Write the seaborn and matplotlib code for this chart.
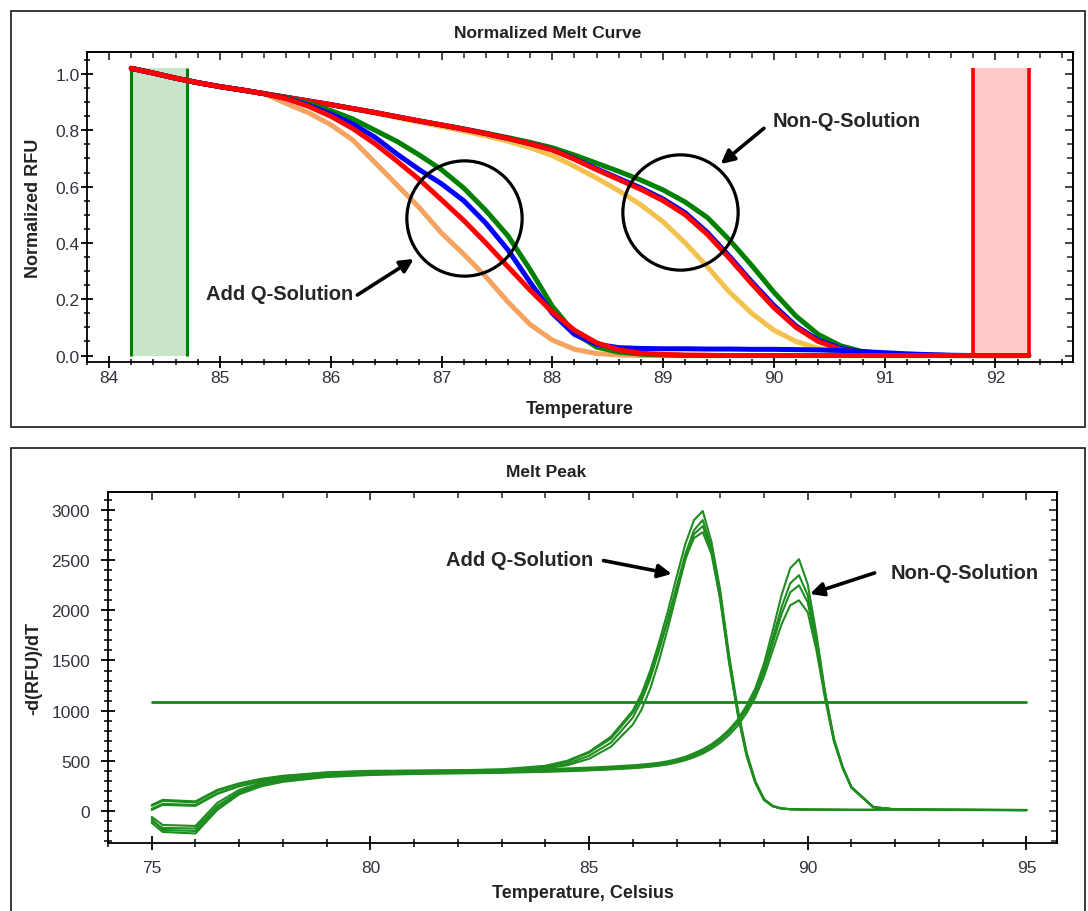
import matplotlib
matplotlib.use("Agg")
import matplotlib.pyplot as plt
import seaborn as sns
from matplotlib.patches import Rectangle
from matplotlib.ticker import MultipleLocator

# ---------------- Normalized melt curve (top) ----------------
temp_norm = [84.2, 84.4, 84.6, 84.8, 85.0, 85.2, 85.4, 85.6, 85.8, 86.0, 86.2, 86.4,
             86.6, 86.8, 87.0, 87.2, 87.4, 87.6, 87.8, 88.0, 88.2, 88.4, 88.6, 88.8,
             89.0, 89.2, 89.4, 89.6, 89.8, 90.0, 90.2, 90.4, 90.6, 90.8, 91.0, 91.2,
             91.4, 91.6, 91.8, 92.0, 92.2, 92.3]

# shared start of all curves (84.2 - 85.4)
head = [1.02, 1.003, 0.985, 0.969, 0.955, 0.943, 0.93]

# Non-Q-Solution curves
nq_green = head + [0.917, 0.904, 0.891, 0.877, 0.863, 0.848, 0.833, 0.819, 0.805, 0.79, 0.774, 0.757,
                   0.738, 0.712, 0.683, 0.654, 0.623, 0.588, 0.545, 0.49, 0.41, 0.32, 0.225, 0.14,
                   0.075, 0.035, 0.014, 0.006, 0.003, 0.001, 0, 0, 0, 0, 0]
nq_red = head + [0.917, 0.904, 0.891, 0.877, 0.863, 0.848, 0.833, 0.819, 0.804, 0.788, 0.771, 0.752,
                 0.73, 0.697, 0.66, 0.625, 0.59, 0.55, 0.50, 0.43, 0.345, 0.255, 0.17, 0.10,
                 0.05, 0.022, 0.01, 0.005, 0.002, 0.001, 0, 0, 0, 0, 0]
nq_blue = head + [0.917, 0.904, 0.891, 0.877, 0.863, 0.848, 0.833, 0.819, 0.804, 0.788, 0.771, 0.752,
                  0.731, 0.699, 0.663, 0.629, 0.595, 0.556, 0.507, 0.437, 0.352, 0.262, 0.178, 0.105,
                  0.055, 0.026, 0.012, 0.006, 0.003, 0.001, 0, 0, 0, 0, 0]
nq_yellow = head + [0.917, 0.904, 0.891, 0.876, 0.861, 0.845, 0.829, 0.813, 0.797, 0.78, 0.761, 0.738,
                    0.71, 0.672, 0.63, 0.585, 0.535, 0.475, 0.40, 0.315, 0.225, 0.15, 0.09, 0.05,
                    0.025, 0.01, 0.004, 0.002, 0.001, 0, 0, 0, 0, 0, 0]

# Add Q-Solution curves
q_orange = head + [0.895, 0.862, 0.82, 0.765, 0.685, 0.605, 0.525, 0.435, 0.36, 0.28, 0.19, 0.11,
                   0.055, 0.022, 0.007, 0.002, 0, 0, 0, 0, 0, 0, 0, 0,
                   0, 0, 0, 0, 0, 0, 0, 0, 0, 0, 0]
q_red = head + [0.912, 0.885, 0.85, 0.806, 0.752, 0.69, 0.625, 0.553, 0.48, 0.40, 0.315, 0.232,
                0.155, 0.09, 0.045, 0.02, 0.008, 0.004, 0.002, 0.001, 0, 0, 0, 0,
                0, 0, 0, 0, 0, 0, 0, 0, 0, 0, 0]
q_blue = head + [0.913, 0.889, 0.858, 0.822, 0.775, 0.715, 0.66, 0.61, 0.55, 0.47, 0.375, 0.26,
                 0.15, 0.075, 0.04, 0.028, 0.025, 0.024, 0.024, 0.023, 0.023, 0.022, 0.022, 0.021,
                 0.02, 0.018, 0.014, 0.01, 0.006, 0.003, 0.001, 0, 0, 0, 0]
q_green = head + [0.915, 0.895, 0.87, 0.84, 0.80, 0.76, 0.712, 0.66, 0.595, 0.515, 0.425, 0.305,
                  0.175, 0.08, 0.03, 0.012, 0.005, 0.002, 0, 0, 0, 0, 0, 0,
                  0, 0, 0, 0, 0, 0, 0, 0, 0, 0, 0]

norm_curves = [
    (nq_yellow, "#F2C14E"),
    (q_orange, "#F4A460"),
    (nq_green, "#008000"),
    (nq_blue, "#0000FF"),
    (nq_red, "#FF0000"),
    (q_green, "#008000"),
    (q_blue, "#0000FF"),
    (q_red, "#FF0000"),
]

# melt region bars (begin / end temperature)
begin_bar = [84.2, 84.7]
end_bar = [91.8, 92.3]
bar_top = 1.02

# ---------------- Melt peak (bottom) ----------------
temp_peak = [75.0, 75.25, 76.0, 76.5, 77.0, 77.5, 78.0, 79.0, 80.0, 81.0, 82.0, 83.0, 84.0,
             84.5, 85.0, 85.5, 86.0, 86.2, 86.4, 86.6, 86.8, 87.0, 87.2, 87.4, 87.6, 87.8,
             88.0, 88.2, 88.4, 88.6, 88.8, 89.0, 89.2, 89.4, 89.6, 89.8, 90.0, 90.2, 90.4,
             90.6, 90.8, 91.0, 91.5, 92.0, 93.0, 94.0, 95.0]

peak_q1 = [50, 100, 85, 200, 270, 315, 345, 380, 395, 400, 405, 415, 450,
           500, 590, 740, 1000, 1170, 1400, 1680, 1990, 2330, 2660, 2900, 2990, 2680,
           2200, 1560, 1020, 590, 300, 120, 50, 25, 18, 15, 14, 13, 12,
           12, 11, 11, 10, 10, 10, 9, 8]
peak_q2 = [-100, -170, -175, 50, 190, 265, 310, 355, 375, 385, 390, 400, 430,
           470, 550, 680, 930, 1100, 1320, 1600, 1900, 2230, 2560, 2800, 2900, 2620,
           2150, 1520, 990, 570, 290, 115, 48, 24, 17, 15, 13, 12, 12,
           11, 11, 10, 10, 10, 9, 9, 8]
peak_q3 = [20, 70, 60, 175, 250, 300, 335, 370, 390, 395, 400, 405, 425,
           455, 520, 640, 860, 1010, 1220, 1500, 1820, 2160, 2500, 2760, 2840, 2600,
           2120, 1500, 980, 560, 285, 110, 46, 23, 17, 14, 13, 12, 12,
           11, 11, 10, 10, 10, 9, 9, 8]
peak_q4 = [-60, -140, -150, 80, 210, 280, 320, 360, 380, 390, 395, 405, 440,
           490, 580, 720, 980, 1140, 1360, 1620, 1910, 2220, 2520, 2720, 2780, 2560,
           2100, 1480, 960, 550, 280, 110, 46, 23, 17, 14, 13, 12, 12,
           11, 11, 10, 10, 10, 9, 9, 8]
peak_nq1 = [60, 110, 95, 210, 275, 320, 350, 385, 400, 402, 405, 410, 418,
            424, 432, 442, 455, 462, 470, 480, 495, 515, 540, 575, 615, 665,
            730, 810, 910, 1050, 1220, 1470, 1800, 2150, 2420, 2510, 2260, 1760, 1180,
            720, 440, 240, 40, 15, 12, 10, 9]
peak_nq2 = [-80, -190, -200, 30, 180, 255, 300, 345, 365, 375, 380, 385, 395,
            400, 408, 418, 430, 437, 445, 456, 470, 490, 515, 548, 588, 640,
            705, 785, 885, 1020, 1190, 1420, 1720, 2030, 2270, 2350, 2150, 1700, 1160,
            710, 435, 235, 38, 15, 12, 10, 9]
peak_nq3 = [10, 60, 50, 170, 245, 295, 330, 368, 385, 392, 396, 400, 408,
            413, 420, 430, 442, 450, 458, 468, 482, 502, 528, 560, 600, 650,
            712, 790, 885, 1010, 1170, 1390, 1670, 1960, 2180, 2250, 2080, 1660, 1140,
            700, 430, 232, 36, 15, 12, 10, 9]
peak_nq4 = [-120, -210, -225, 10, 165, 245, 290, 338, 358, 368, 374, 380, 390,
            396, 404, 414, 426, 433, 441, 451, 464, 482, 505, 535, 572, 620,
            680, 755, 850, 975, 1130, 1340, 1600, 1860, 2050, 2100, 1980, 1600, 1110,
            690, 425, 230, 35, 15, 12, 10, 9]

peak_curves = [peak_q1, peak_q2, peak_q3, peak_q4, peak_nq1, peak_nq2, peak_nq3, peak_nq4]
threshold_x = [75, 95]
threshold = 1090

# ---------------- style ----------------
sns.set_theme(style="white")
plt.rcParams["font.family"] = ["Liberation Sans", "DejaVu Sans"]
tick_color = "#333340"
label_color = "#222222"

fig = plt.figure(figsize=(10.88, 9.12), dpi=100)
W, H = 1088, 912


def px_axes(left, top, right, bottom):
    return fig.add_axes([left / W, 1 - bottom / H, (right - left) / W, (bottom - top) / H])


def style_axes(ax, xmaj, xmin, ymaj, ymin, major_len, minor_len, xpad, ypad):
    for s in ax.spines.values():
        s.set_color("black")
        s.set_linewidth(1.3)
    ax.xaxis.set_major_locator(MultipleLocator(xmaj))
    ax.xaxis.set_minor_locator(MultipleLocator(xmin))
    ax.yaxis.set_major_locator(MultipleLocator(ymaj))
    ax.yaxis.set_minor_locator(MultipleLocator(ymin))
    ax.tick_params(which="both", left=True, bottom=True, direction="inout", color="black")
    ax.tick_params(which="major", length=major_len, width=1.3, labelsize=12.5, labelcolor=tick_color)
    ax.tick_params(which="minor", length=minor_len, width=1.1)
    ax.tick_params(axis="x", which="major", pad=xpad)
    ax.tick_params(axis="y", which="major", pad=ypad)
    # inward ticks on top and right spines
    top = ax.secondary_xaxis("top")
    top.xaxis.set_major_locator(MultipleLocator(xmaj))
    top.xaxis.set_minor_locator(MultipleLocator(xmin))
    top.tick_params(which="major", direction="in", length=6, width=1.2, labeltop=False)
    top.tick_params(which="minor", direction="in", length=4, width=1.1)
    right = ax.secondary_yaxis("right")
    right.yaxis.set_major_locator(MultipleLocator(ymaj))
    right.yaxis.set_minor_locator(MultipleLocator(ymin))
    right.tick_params(which="major", direction="in", length=6, width=1.2, labelright=False)
    right.tick_params(which="minor", direction="in", length=4, width=1.1)


# panel frames
fig.add_artist(Rectangle((11 / W, 1 - 428 / H), (1085 - 11) / W, (428 - 12) / H,
                         transform=fig.transFigure, fill=False, ec="#2b2b2b", lw=1.3))
fig.add_artist(Rectangle((11 / W, -0.05), (1085 - 11) / W, 0.05 + 1 - 449 / H,
                         transform=fig.transFigure, fill=False, ec="#2b2b2b", lw=1.3))

arrow_kw = dict(arrowstyle="-|>", color="black", lw=2.6, mutation_scale=20, shrinkA=0, shrinkB=0)

# ---- top: normalized melt curve ----
ax1 = px_axes(87, 53, 1073, 363)
ax1.fill_between(begin_bar, 0, bar_top, color="#C9E5C9", lw=0)
ax1.vlines(begin_bar, 0, bar_top, color="#008000", lw=2.2)
ax1.fill_between(end_bar, 0, bar_top, color="#FFC9C9", lw=0)
ax1.vlines(end_bar, 0, bar_top, color="#FF0000", lw=2.6)

for vals, col in norm_curves:
    sns.lineplot(x=temp_norm, y=vals, ax=ax1, color=col, lw=3.6, sort=False,
                 estimator=None, solid_capstyle="round")

ax1.set_xlim(83.8, 92.7)
ax1.set_ylim(-0.023, 1.078)
style_axes(ax1, 1, 0.2, 0.2, 0.05, major_len=8.6, minor_len=5, xpad=1.5, ypad=0.8)
ax1.set_xlabel("Temperature", fontsize=13, fontweight="bold", color=label_color)
ax1.set_ylabel("Normalized RFU", fontsize=13, fontweight="bold", color=label_color)
ax1.xaxis.set_label_coords(0.5, -0.123)
ax1.yaxis.set_label_coords(-0.046, 0.5)

# circles and arrows
circle_pts = [(87.2, 0.488), (89.15, 0.511)]
for cx, cy in circle_pts:
    ax1.plot([cx], [cy], marker="o", ms=83, mfc="none", mec="black", mew=2.3)

ax1.annotate("", xy=(86.75, 0.343), xytext=(86.24, 0.215), arrowprops=arrow_kw)
ax1.text(85.54, 0.22, "Add Q-Solution", ha="center", va="center", fontsize=14.5, fontweight="bold")
ax1.annotate("", xy=(89.52, 0.68), xytext=(89.91, 0.807), arrowprops=arrow_kw)
ax1.text(90.66, 0.834, "Non-Q-Solution", ha="center", va="center", fontsize=14.5, fontweight="bold")

fig.text(548 / W, 1 - 33 / H, "Normalized Melt Curve", ha="center", va="center",
         fontsize=12.5, fontweight="bold", color=label_color)

# ---- bottom: melt peak ----
ax2 = px_axes(108, 493, 1057, 844)
sns.lineplot(x=threshold_x, y=[threshold, threshold], ax=ax2, color="#138A13", lw=2.0)
for vals in peak_curves:
    sns.lineplot(x=temp_peak, y=vals, ax=ax2, color="#1E8C1E", lw=1.5, sort=False, estimator=None)

ax2.set_xlim(74, 95.7)
ax2.set_ylim(-320, 3180)
style_axes(ax2, 5, 1, 500, 100, major_len=10, minor_len=5.8, xpad=7.5, ypad=8)
ax2.set_xlabel("Temperature, Celsius", fontsize=13, fontweight="bold", color=label_color)
ax2.set_ylabel("-d(RFU)/dT", fontsize=13, fontweight="bold", color=label_color)
ax2.xaxis.set_label_coords(0.5, -0.117)
ax2.yaxis.set_label_coords(-0.0695, 0.5)

ax2.annotate("", xy=(86.89, 2363), xytext=(85.33, 2496), arrowprops=arrow_kw)
ax2.text(83.42, 2502, "Add Q-Solution", ha="center", va="center", fontsize=14.5, fontweight="bold")
ax2.annotate("", xy=(90.05, 2163), xytext=(91.53, 2373), arrowprops=arrow_kw)
ax2.text(93.58, 2373, "Non-Q-Solution", ha="center", va="center", fontsize=14.5, fontweight="bold")

fig.text(546 / W, 1 - 473 / H, "Melt Peak", ha="center", va="center",
         fontsize=12.5, fontweight="bold", color=label_color)

fig.savefig("out.png", dpi=100, facecolor="white")
